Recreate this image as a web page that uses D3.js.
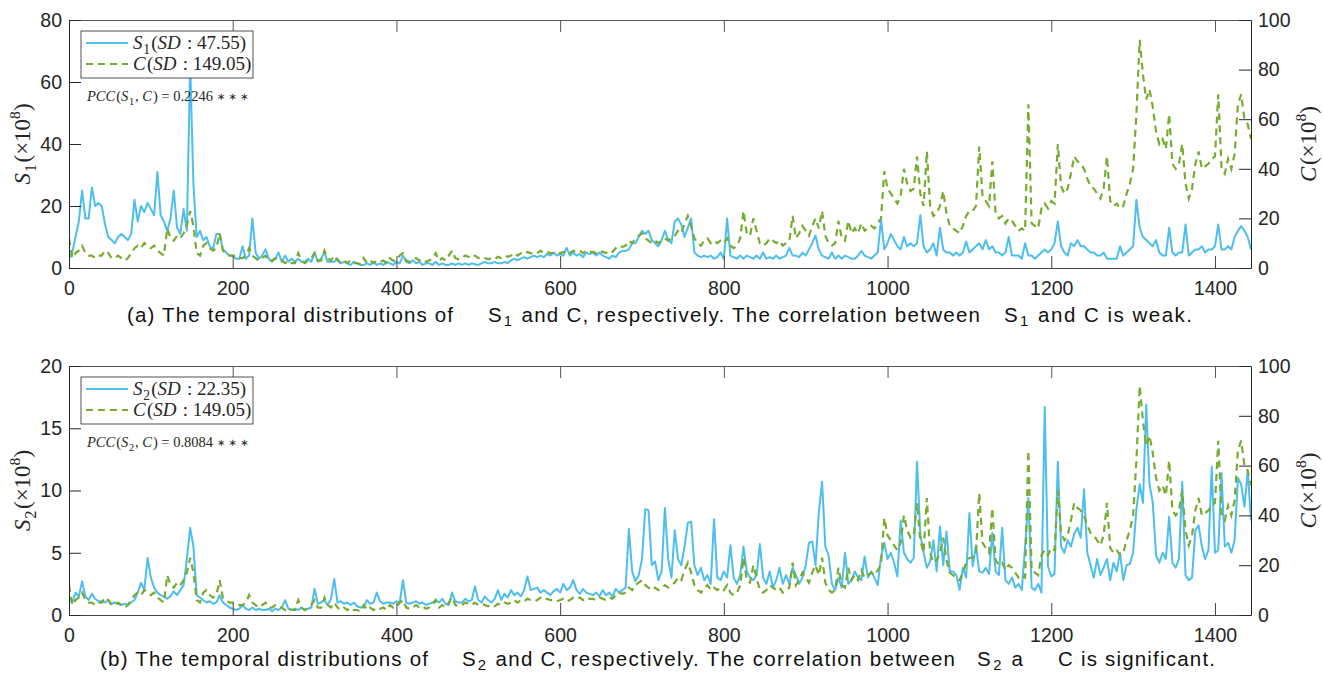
<!DOCTYPE html>
<html>
<head>
<meta charset="utf-8">
<script src="https://cdn.jsdelivr.net/npm/d3@7"></script>
<style>
    body { margin: 0; background: #fff; }
    svg { display: block; }
    .tick text { font-family: "Liberation Sans", Arial, Helvetica, sans-serif; font-size: 19.5px; fill: #262626; }
</style>
</head>
<body>
<div id="chart"></div>
<script>
// sample positions (every 4th time step)
const days = d3.range(0, 1445, 4);

// S1, left axis of panel (a)
const s1 = [
    3, 5, 10, 15, 25, 16, 16, 26, 20, 21,
    20, 14, 10, 9, 8, 10, 11, 10, 9, 11,
    22, 15, 20, 18, 21, 19, 17, 31, 17, 15,
    12, 16, 25, 13, 11, 19, 12, 66, 27, 10,
    12, 9, 10, 7, 6, 11, 11, 6, 5, 4,
    4, 3, 3, 7, 3, 4, 16, 5, 3, 4,
    6, 3, 2, 3, 5, 2, 4, 2, 3, 2,
    3, 2, 2, 3, 2, 5, 2, 3, 5, 2,
    2, 2, 3, 1.5, 2, 1.5, 1, 2, 1.5, 1,
    1, 1.5, 1, 2, 1, 1.5, 1, 2, 1.5, 1,
    2, 1.5, 4, 2, 1.5, 2.5, 1.5, 2, 1, 1.5,
    1.5, 1, 2, 1, 1.5, 1, 1, 1.5, 1, 1.5,
    1, 1.5, 1, 1.5, 1.2, 1, 1.5, 2, 1.5, 1.5,
    2, 1.5, 1.5, 2, 1.5, 2.5, 3, 2.5, 3, 3.5,
    3, 3.5, 4, 3.5, 4, 3.5, 4.5, 4, 5, 4,
    4.5, 4, 6.5, 4, 5, 4, 4.5, 3.5, 5, 4.5,
    5, 4, 5, 4, 3.5, 3, 4, 3.5, 5, 5.5,
    5.5, 6, 8, 8, 10, 12, 11, 12, 9, 8,
    7, 9, 12, 9, 8, 15, 16, 14, 10, 13,
    16, 5, 4, 3.5, 4, 3.5, 4, 3, 3.5, 5,
    3, 16, 4, 3.5, 3, 4, 3, 4, 3.5, 3,
    4, 3, 5, 3, 3.5, 3, 4, 3, 3.5, 4,
    6.5, 4, 4, 3.5, 5, 4, 6, 8, 10.5, 6,
    4, 3.5, 3, 5, 3, 4, 3, 4, 3.5, 3,
    3, 4, 5.5, 4, 3.5, 3, 4, 5, 15.5, 6,
    8, 11, 9, 7, 6, 10, 7, 8, 7, 8,
    17, 7, 5, 6, 8, 4, 13, 6, 5, 5,
    4, 5, 4, 5, 8.5, 5, 6, 7, 8, 6,
    9, 6, 7, 5, 5, 4, 5, 10, 4, 4,
    4, 3, 8, 4, 4, 3, 4, 5, 6, 5,
    6, 8, 15, 7, 5, 4, 8, 7, 9, 7,
    7, 6, 5, 5, 4, 4, 5, 3, 3, 3,
    3, 7, 4, 5, 6, 7, 22, 13, 10, 9,
    8, 7, 9, 5, 4, 4, 13, 5, 4, 5,
    5, 14, 4, 5, 6, 6, 7, 5, 6, 6,
    7, 14, 6, 6, 7, 6, 10, 12, 13.5, 12,
    10, 6
];

// S2, left axis of panel (b)
const s2 = [
    1.5, 1.0, 1.8, 1.5, 2.7, 1.5, 1.2, 1.7, 1.3, 1.1,
    1.1, 1.0, 1.2, 0.9, 1.0, 0.9, 0.8, 0.9, 0.8, 1.0,
    1.2, 1.8, 2.6, 2.0, 4.6, 3.0, 2.2, 1.8, 1.6, 1.5,
    1.3, 1.5, 1.9, 1.6, 2.0, 2.4, 4.5, 7.0, 5.5, 1.6,
    1.4, 1.2, 1.0, 1.1, 0.9, 1.0, 1.6, 1.0, 0.8, 0.6,
    0.5, 0.4, 0.5, 0.8, 0.5, 0.4, 0.6, 0.4, 0.5, 0.4,
    0.4, 0.5, 0.3, 0.5, 0.4, 0.6, 1.2, 0.5, 0.4, 0.5,
    0.4, 0.6, 0.4, 0.5, 0.6, 2.1, 0.9, 1.0, 1.2, 0.8,
    1.3, 2.9, 1.0, 1.1, 0.9, 1.0, 0.8, 1.0, 0.7, 0.6,
    0.6, 1.2, 0.9, 1.0, 1.8, 1.1, 0.9, 1.0, 1.0, 0.9,
    1.1, 1.0, 2.8, 1.0, 0.9, 1.0, 1.1, 0.9, 1.0, 0.8,
    0.9, 1.0, 1.2, 1.0, 1.3, 0.9, 0.8, 1.8, 1.1, 1.0,
    1.0, 1.3, 1.1, 1.2, 2.3, 1.2, 1.0, 1.5, 1.2, 1.0,
    1.3, 2.0, 1.2, 1.7, 1.4, 2.0, 1.6, 1.8, 1.5, 2.0,
    3.1, 2.0, 2.1, 2.2, 1.8, 2.0, 1.8, 1.6, 1.9, 2.1,
    1.8, 2.5, 2.0, 2.2, 2.8, 2.0, 1.7, 2.1, 1.8, 1.7,
    1.6, 1.8, 1.5, 2.0, 1.6, 1.8, 1.5, 2.1, 1.8, 2.0,
    2.2, 6.9, 3.5, 2.7, 3.2, 4.5, 8.5, 8.4, 4.0, 4.3,
    2.8, 3.5, 8.6, 4.5, 3.0, 6.8, 4.5, 4.0, 5.5, 7.4,
    7.5, 4.0, 3.2, 3.8, 2.8, 3.2, 2.5, 7.7, 3.0, 2.8,
    3.5, 3.0, 5.6, 3.0, 2.5, 3.2, 5.5, 3.5, 3.0, 2.8,
    3.2, 5.7, 3.0, 2.5, 3.5, 2.2, 2.8, 3.8, 2.5, 3.2,
    2.5, 3.8, 3.2, 2.5, 3.0, 4.0, 5.8, 5.9, 4.0, 8.2,
    10.7, 5.5, 4.8, 2.5, 2.0, 3.0, 2.2, 5.0, 2.5, 2.8,
    3.5, 3.0, 2.8, 4.7, 3.0, 3.5, 3.0, 2.4, 4.7, 5.8,
    4.5, 5.0, 4.2, 3.1, 7.6, 5.0, 4.5, 4.2, 4.6, 12.3,
    6.5, 5.0, 3.8, 4.3, 6.0, 3.5, 7.1, 4.0, 6.7, 3.5,
    3.5, 3.2, 2.0, 3.8, 3.0, 8.2, 3.9, 5.6, 3.5, 3.4,
    3.8, 3.3, 6.6, 3.5, 3.2, 7.0, 2.8, 2.5, 3.0, 2.2,
    2.5, 2.0, 5.5, 9.4, 2.2, 2.0, 2.5, 1.8, 16.7, 3.9,
    3.1, 3.3, 12.3, 5.5, 5.0, 6.0, 5.5, 6.5, 7.0, 6.2,
    10.1, 5.0, 4.0, 3.0, 4.5, 3.2, 3.8, 4.5, 2.8, 4.2,
    3.5, 5.0, 2.8, 4.0, 4.1, 5.0, 8.5, 10.5, 9.0, 16.9,
    10.5, 9.0, 4.8, 4.2, 5.0, 4.5, 7.9, 4.2, 3.8, 4.5,
    10.7, 3.2, 2.8, 3.0, 6.8, 7.2, 5.5, 4.5, 5.2, 11.9,
    5.0, 5.2, 11.4, 5.5, 5.8, 5.0, 6.0, 11.0, 10.5, 8.7,
    11.6, 7.6
];

// C, right axis of both panels
const cSeries = [
    12, 4, 6, 7, 9, 6, 5, 5, 4, 5,
    5, 7, 6, 4, 4, 5, 4, 3, 4, 6,
    8, 9, 8, 10, 9, 8, 9, 7, 6, 5,
    16, 12, 11, 13, 12, 14, 17, 23, 17, 6,
    5, 9, 10, 8, 7, 8, 14, 7, 6, 5,
    5, 5, 4, 4, 5, 8, 5, 4, 3, 4,
    5, 3, 3, 4, 3, 3, 2, 3, 2, 2,
    6, 3, 2, 3, 4, 6, 3, 3, 7, 4,
    3, 5, 3, 2, 3, 2, 3, 2, 2, 1.5,
    4, 2, 3, 2, 3, 2.5, 3, 2, 4, 3,
    3, 5, 6, 3, 2.5, 3, 4, 3, 3.5, 2.5,
    3, 4, 6, 3, 4, 3, 5, 7, 4, 3.5,
    4, 5, 4.5, 4, 5, 4, 4.5, 4, 3.5, 4,
    3.5, 4.5, 4, 5, 4.5, 5, 6, 5, 6, 5.5,
    6.5, 6, 5.5, 6, 7, 6, 6.5, 6, 6, 5.5,
    6, 6.5, 5.5, 6, 7, 6.5, 7, 6, 7, 6.5,
    6.5, 6, 7, 6.5, 6, 7, 6.5, 8, 9, 8.5,
    9, 11, 10, 12, 13, 14, 12, 11, 10, 11,
    10, 11, 12, 11, 12, 13, 15, 14, 18, 21,
    17, 12, 10, 9, 11, 12, 10, 11, 10, 11,
    10, 12, 9, 8, 9, 12, 23, 14, 13, 20,
    15, 10, 9, 10, 12, 11, 10, 11, 9, 10,
    11, 21, 12, 14, 17, 15, 13, 17, 20, 16,
    23, 13, 10, 9, 10, 19, 12, 11, 19, 14,
    16, 14, 18, 15, 16, 17, 16, 18, 20, 39,
    32, 30, 28, 26, 29, 40, 34, 31, 32, 45,
    30, 25, 47, 25, 21, 22, 25, 31, 22, 17,
    16, 15, 14, 17, 21, 23, 23, 25, 49, 29,
    27, 25, 43, 22, 20, 21, 18, 20, 19, 17,
    15, 16, 15, 66, 18, 17, 16, 24, 26, 24,
    27, 26, 50, 33, 30, 32, 38, 45, 43, 42,
    40, 36, 33, 32, 30, 28, 32, 45, 27, 25,
    26, 24, 25, 30, 34, 40, 62, 92, 78, 68,
    72, 65, 55, 50, 52, 48, 62, 42, 40, 42,
    50, 34, 28, 32, 42, 47, 40, 41, 42, 44,
    45, 70, 40, 38, 44, 40, 46, 66, 70, 60,
    58, 52
];

const xTicks = [0, 200, 400, 600, 800, 1000, 1200, 1400];
const s1Ticks = [0, 20, 40, 60, 80];
const s2Ticks = [0, 5, 10, 15, 20];
const cTicks = [0, 20, 40, 60, 80, 100];

const W = 1323, H = 674;
const BLUE = "#4DBEEE", GREEN = "#77AC30", INK = "#262626";
const SERIF = '"Liberation Serif", "Times New Roman", serif';
const SANS = '"Liberation Sans", Arial, Helvetica, sans-serif';

const panels = [
    {
        top: 20, bottom: 268, values: s1, max: 80, ticks: s1Ticks, sub: "1", sd: "47.55", pcc: "0.2246",
        captionY: 322,
        caption: [
            {x: 127, w: 326, parts: [["(a) The temporal distributions of"]]},
            {x: 488, w: 492, parts: [["S"], ["1", "sub"], [" and C, respectively. The correlation between"]]},
            {x: 1004, w: 188, parts: [["S"], ["1", "sub"], [" and C is weak."]]}
        ]
    },
    {
        top: 366, bottom: 615, values: s2, max: 20, ticks: s2Ticks, sub: "2", sd: "22.35", pcc: "0.8084",
        captionY: 666,
        caption: [
            {x: 100, w: 328, parts: [["(b) The temporal distributions of"]]},
            {x: 462, w: 493, parts: [["S"], ["2", "sub"], [" and C, respectively. The correlation between"]]},
            {x: 977, w: 46, parts: [["S"], ["2", "sub"], [" a"]]},
            {x: 1058, w: 157, parts: [["C is significant."]]}
        ]
    }
];

const svg = d3.select("#chart").append("svg")
    .attr("width", W)
    .attr("height", H);

svg.append("rect").attr("width", W).attr("height", H).attr("fill", "#fff");

const x = d3.scaleLinear().domain([0, 1444]).range([69, 1251]);

panels.forEach((p, i) => drawPanel(p, i));

function styleAxis(sel, lineColor) {
    sel.select(".domain").attr("stroke", lineColor).attr("stroke-width", 1);
    sel.selectAll(".tick line").attr("stroke", lineColor).attr("stroke-width", 1);
}

// appends tspans: [text, kind] where kind is "i" (italic), "sub", "sup", "ast" or undefined
function writeParts(text, parts, size, subShift = 0.25) {
    let shift = 0;
    let prevKind = null;
    parts.forEach(([str, kind]) => {
        const t = text.append("tspan").text(str);
        let target = 0;
        if (kind === "sub") { target = size * subShift; t.attr("font-size", size * 0.72).attr("dx", size * 0.04); }
        else if (kind === "sup") { target = -size * 0.42; t.attr("font-size", size * 0.68); }
        else if (kind === "ast") { target = -size * 0.1; t.attr("font-size", size * 0.7).attr("font-family", "DejaVu Sans"); }
        if (kind === "i") t.attr("font-style", "italic");
        if (prevKind === "sub") t.attr("dx", size * 0.06);
        else if (prevKind === "i" && kind !== "sub") t.attr("dx", size * 0.07);
        if (target !== shift) { t.attr("dy", target - shift); shift = target; }
        prevKind = kind;
    });
}

function drawPanel(p, i) {
    const yL = d3.scaleLinear().domain([0, p.max]).range([p.bottom, p.top]);
    const yR = d3.scaleLinear().domain([0, 100]).range([p.bottom, p.top]);

    const g = svg.append("g");

    g.append("clipPath").attr("id", "clip" + i)
        .append("rect")
        .attr("x", x.range()[0]).attr("y", p.top)
        .attr("width", x.range()[1] - x.range()[0])
        .attr("height", p.bottom - p.top);

    const lineL = d3.line().x((d, j) => x(days[j])).y(d => yL(d));
    const lineR = d3.line().x((d, j) => x(days[j])).y(d => yR(d));

    g.append("path")
        .datum(p.values)
        .attr("clip-path", `url(#clip${i})`)
        .attr("d", lineL)
        .attr("fill", "none")
        .attr("stroke", BLUE)
        .attr("stroke-width", 2)
        .attr("stroke-linejoin", "round");

    g.append("path")
        .datum(cSeries)
        .attr("clip-path", `url(#clip${i})`)
        .attr("d", lineR)
        .attr("fill", "none")
        .attr("stroke", GREEN)
        .attr("stroke-width", 2.2)
        .attr("stroke-dasharray", "7,5");

    // axes, ticks pointing inwards
    g.append("g")
        .attr("transform", `translate(0,${p.bottom})`)
        .call(d3.axisBottom(x).tickValues(xTicks).tickFormat(d3.format("d"))
            .tickSizeInner(-12).tickSizeOuter(0).tickPadding(13))
        .call(s => styleAxis(s, "#444"));

    g.append("g")
        .attr("transform", `translate(0,${p.top})`)
        .call(d3.axisTop(x).tickValues(xTicks).tickSizeInner(-12).tickSizeOuter(0).tickFormat(""))
        .call(s => styleAxis(s, "#555"));

    g.append("g")
        .attr("transform", `translate(${x.range()[0]},0)`)
        .call(d3.axisLeft(yL).tickValues(p.ticks).tickFormat(d3.format("d"))
            .tickSizeInner(-12).tickSizeOuter(0).tickPadding(7))
        .call(s => styleAxis(s, INK));

    g.append("g")
        .attr("transform", `translate(${x.range()[1]},0)`)
        .call(d3.axisRight(yR).tickValues(cTicks).tickFormat(d3.format("d"))
            .tickSizeInner(-12).tickSizeOuter(0).tickPadding(7))
        .call(s => styleAxis(s, INK));

    const midY = (p.top + p.bottom) / 2;

    const leftLabel = g.append("text")
        .attr("transform", `translate(30,${midY}) rotate(-90)`)
        .attr("text-anchor", "middle")
        .attr("font-family", SERIF)
        .attr("font-size", 23)
        .attr("fill", INK);
    writeParts(leftLabel, [["S", "i"], [p.sub, "sub"], ["(×10"], ["8", "sup"], [")"]], 23);

    const rightLabel = g.append("text")
        .attr("transform", `translate(1316,${midY}) rotate(-90)`)
        .attr("text-anchor", "middle")
        .attr("font-family", SERIF)
        .attr("font-size", 23)
        .attr("fill", INK);
    writeParts(rightLabel, [["C", "i"], ["(×10"], ["8", "sup"], [")"]], 23);

    // legend
    const lg = g.append("g");
    lg.append("rect")
        .attr("x", 81).attr("y", p.top + 11)
        .attr("width", 172).attr("height", 47)
        .attr("fill", "#fff")
        .attr("stroke", INK)
        .attr("stroke-width", 0.8);

    const rows = [
        {y: p.top + 23, color: BLUE, dash: null, parts: [["S", "i"], [p.sub, "sub"], ["("], ["SD", "i"], [" : " + p.sd + ")"]]},
        {y: p.top + 44, color: GREEN, dash: "7,5", parts: [["C", "i"], ["("], ["SD", "i"], [" : 149.05)"]]}
    ];
    rows.forEach(r => {
        lg.append("line")
            .attr("x1", 86).attr("x2", 128)
            .attr("y1", r.y).attr("y2", r.y)
            .attr("stroke", r.color)
            .attr("stroke-width", 2)
            .attr("stroke-dasharray", r.dash);
        const t = lg.append("text")
            .attr("x", 133).attr("y", r.y + 6)
            .attr("font-family", SERIF)
            .attr("font-size", 19)
            .attr("fill", INK);
        writeParts(t, r.parts, 19);
    });

    const pccText = g.append("text")
        .attr("x", 87).attr("y", p.top + 81)
        .attr("font-family", SERIF)
        .attr("font-size", 14.5)
        .attr("fill", INK);
    writeParts(pccText, [["PCC", "i"], ["("], ["S", "i"], [p.sub, "sub"], [", "], ["C", "i"],
        [") = " + p.pcc + " "], ["∗ ∗ ∗", "ast"]], 14.5);

    // caption
    p.caption.forEach(seg => {
        const t = svg.append("text")
            .attr("x", seg.x)
            .attr("y", p.captionY)
            .attr("font-family", SANS)
            .attr("font-size", 20.5)
            .attr("fill", "#111")
            .attr("textLength", seg.w)
            .attr("lengthAdjust", "spacing");
        writeParts(t, seg.parts, 20.5, 0.18);
    });
}
</script>
</body>
</html>
